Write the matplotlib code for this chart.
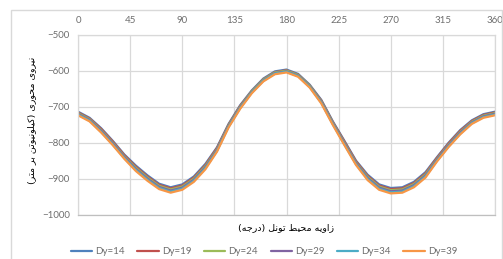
import matplotlib
matplotlib.use("Agg")
import matplotlib.pyplot as plt
from matplotlib.patches import Rectangle
from matplotlib import font_manager
from matplotlib.ft2font import FT2Font

# ---------------- data ----------------
angles = [0, 10, 20, 30, 40, 50, 60, 70, 80, 90, 100, 110, 120, 130, 140, 150, 160, 170, 180,
          190, 200, 210, 220, 230, 240, 250, 260, 270, 280, 290, 300, 310, 320, 330, 340, 350, 360]

dy14 = [-713, -730, -759, -794, -832, -863, -890, -913, -923, -915, -893, -858, -812, -747, -695,
        -654, -621, -601, -596, -608, -638, -680, -740, -794, -849, -888, -915, -925, -923, -908,
        -881, -839, -799, -764, -737, -720, -713]
dy19 = [-715, -732, -761, -796, -834, -866, -893, -916, -926, -918, -896, -861, -814, -749, -697,
        -656, -623, -603, -598, -610, -640, -682, -742, -796, -851, -891, -918, -928, -926, -911,
        -884, -841, -801, -766, -739, -722, -715]
dy24 = [-717, -734, -764, -799, -837, -869, -896, -919, -929, -921, -899, -864, -817, -751, -699,
        -657, -624, -604, -599, -611, -641, -684, -744, -799, -854, -894, -921, -931, -929, -914,
        -887, -844, -804, -769, -741, -724, -717]
dy29 = [-719, -736, -766, -801, -839, -872, -899, -922, -932, -924, -902, -867, -819, -753, -701,
        -659, -626, -606, -601, -613, -643, -686, -746, -801, -856, -897, -924, -934, -932, -917,
        -890, -846, -806, -771, -743, -726, -719]
dy34 = [-721, -738, -769, -804, -842, -875, -902, -925, -935, -927, -905, -870, -822, -755, -703,
        -660, -627, -607, -602, -614, -644, -688, -748, -804, -859, -900, -927, -937, -935, -920,
        -893, -849, -809, -774, -745, -728, -721]
dy39 = [-723, -740, -771, -806, -844, -878, -905, -928, -938, -930, -908, -873, -824, -757, -705,
        -662, -629, -609, -604, -616, -646, -690, -750, -806, -861, -903, -930, -940, -938, -923,
        -896, -851, -811, -776, -747, -730, -723]

series_labels = ["Dy=14", "Dy=19", "Dy=24", "Dy=29", "Dy=34", "Dy=39"]
series_values = [dy14, dy19, dy24, dy29, dy34, dy39]
colors = ["#4F81BD", "#C0504D", "#9BBB59", "#8064A2", "#4BACC6", "#F79646"]

x_ticks = [0, 45, 90, 135, 180, 225, 270, 315, 360]
y_ticks = [-500, -600, -700, -800, -900, -1000]

ylabel_text = "نیروی محوری (کیلونیوتن بر متر)"
xlabel_text = "زاویه محیط تونل (درجه)"

# ---------------- Arabic-script shaping (visual order) ----------------
FORMS = {
    'ا': (0xFE8D, 0xFE8E, None, None),
    'آ': (0xFE81, 0xFE82, None, None),
    'ب': (0xFE8F, 0xFE90, 0xFE91, 0xFE92),
    'ت': (0xFE95, 0xFE96, 0xFE97, 0xFE98),
    'ج': (0xFE9D, 0xFE9E, 0xFE9F, 0xFEA0),
    'ح': (0xFEA1, 0xFEA2, 0xFEA3, 0xFEA4),
    'د': (0xFEA9, 0xFEAA, None, None),
    'ر': (0xFEAD, 0xFEAE, None, None),
    'ز': (0xFEAF, 0xFEB0, None, None),
    'ط': (0xFEC1, 0xFEC2, 0xFEC3, 0xFEC4),
    'ک': (0xFB8E, 0xFB8F, 0xFB90, 0xFB91),
    'ل': (0xFEDD, 0xFEDE, 0xFEDF, 0xFEE0),
    'م': (0xFEE1, 0xFEE2, 0xFEE3, 0xFEE4),
    'ن': (0xFEE5, 0xFEE6, 0xFEE7, 0xFEE8),
    'ه': (0xFEE9, 0xFEEA, 0xFEEB, 0xFEEC),
    'و': (0xFEED, 0xFEEE, None, None),
    'ی': (0xFBFC, 0xFBFD, 0xFBFE, 0xFBFF),
}
ALT = {'ک': (0xFED9, 0xFEDA, 0xFEDB, 0xFEDC), 'ی': (0xFEF1, 0xFEF2, 0xFEF3, 0xFEF4)}

try:
    _fp = font_manager.findfont("DejaVu Sans")
    _cmap = FT2Font(_fp).get_charmap()
    for k, v in ALT.items():
        if any(c not in _cmap for c in FORMS[k]):
            FORMS[k] = v
except Exception:
    pass


def shape(text):
    try:
        import arabic_reshaper
        from bidi.algorithm import get_display
        return get_display(arabic_reshaper.reshape(text))
    except Exception:
        pass
    out = []
    n = len(text)
    for i, ch in enumerate(text):
        if ch not in FORMS:
            out.append(ch)
            continue
        iso, fin, ini, med = FORMS[ch]
        prev = text[i - 1] if i > 0 else ''
        nxt = text[i + 1] if i + 1 < n else ''
        join_prev = prev in FORMS and FORMS[prev][2] is not None
        join_next = nxt in FORMS and ini is not None
        if join_prev and join_next:
            cp = med
        elif join_prev:
            cp = fin
        elif join_next:
            cp = ini
        else:
            cp = iso
        out.append(chr(cp))
    s = ''.join(reversed(out))
    s = s.translate(str.maketrans({'(': ')', ')': '('}))
    return s


# ---------------- figure ----------------
W, H = 503, 259
fig = plt.figure(figsize=(W / 100, H / 100), dpi=100)
fig.patch.set_facecolor("white")

fig.patches.append(Rectangle((11 / W, -0.1), 490.5 / W, 1.1 - 10 / H,
                             transform=fig.transFigure, fill=False,
                             edgecolor="#D9D9D9", linewidth=1.0))

ax = fig.add_axes([78 / W, 1 - 215 / H, 417 / W, 180 / H])

for lbl, vals, c in zip(series_labels, series_values, colors):
    ax.plot(angles, vals, color=c, linewidth=1.6, label=lbl, solid_capstyle="round",
            solid_joinstyle="round")

ax.set_xlim(0, 360)
ax.set_ylim(-1000, -500)
ax.set_xticks(x_ticks)
ax.set_yticks(y_ticks)
ax.xaxis.tick_top()
ax.tick_params(axis="both", length=0, labelsize=7, labelcolor="#6E6E6E")
ax.tick_params(axis="x", pad=7)
ax.tick_params(axis="y", pad=6)
for lab in ax.get_xticklabels() + ax.get_yticklabels():
    lab.set_family(["Lato", "DejaVu Sans"])

ax.grid(True, color="#D9D9D9", linewidth=0.9)
ax.set_axisbelow(True)
for side, sp in ax.spines.items():
    sp.set_color("#D9D9D9")
    sp.set_linewidth(0.9)
ax.spines["bottom"].set_color("#BFBFBF")

fig.text(32 / W, 1 - 120 / H, shape(ylabel_text), rotation=90, ha="center", va="center",
         fontsize=6.8, family=["DejaVu Sans"], color="#000000")
fig.text(286 / W, 1 - 228 / H, shape(xlabel_text), ha="center", va="center",
         fontsize=6.8, family=["DejaVu Sans"], color="#000000")

leg = fig.legend(loc="center", bbox_to_anchor=(264 / W, 1 - 252 / H), ncol=6,
                 frameon=False, fontsize=7, handlelength=2.2, handletextpad=0.3,
                 columnspacing=1.3, borderaxespad=0, borderpad=0)
for t in leg.get_texts():
    t.set_color("#6E6E6E")
    t.set_family(["Lato", "DejaVu Sans"])

fig.savefig("out.png", dpi=100, facecolor="white")
